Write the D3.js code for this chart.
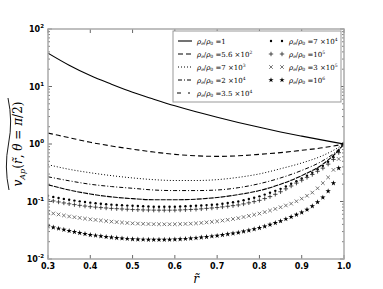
<!DOCTYPE html>
<html lang="en">
<head>
<meta charset="UTF-8" />
<title>v_Ap profile</title>
<script src="https://cdn.jsdelivr.net/npm/d3@7"></script>
<style>
  body { margin: 0; background: #fff; }
  text { fill: #000; }
</style>
</head>
<body>
<script type="text/javascript">

// radius grid for the smooth lines
var rLine = [0.3, 0.35, 0.4, 0.45, 0.5, 0.55, 0.6, 0.65, 0.7, 0.75, 0.8, 0.85, 0.9, 0.95, 0.975, 1.0];

// log10 of v, one array per curve
var lineRho1    = [1.58, 1.37, 1.19, 1.04, 0.9, 0.78, 0.665, 0.56, 0.465, 0.375, 0.29, 0.21, 0.137, 0.067, 0.033, 0];
var lineRho5p6e2 = [0.19, 0.11, 0.03, -0.035, -0.09, -0.14, -0.18, -0.205, -0.215, -0.205, -0.18, -0.15, -0.11, -0.065, -0.035, 0];
var lineRho7e3  = [-0.36, -0.44, -0.5, -0.55, -0.59, -0.62, -0.635, -0.635, -0.62, -0.58, -0.52, -0.43, -0.33, -0.2, -0.11, 0];
var lineRho2e4  = [-0.57, -0.64, -0.7, -0.74, -0.77, -0.8, -0.81, -0.81, -0.8, -0.76, -0.69, -0.59, -0.46, -0.29, -0.17, 0];
var lineRho3p5e4 = [-0.71, -0.8, -0.87, -0.92, -0.95, -0.97, -0.97, -0.96, -0.93, -0.88, -0.81, -0.7, -0.55, -0.35, -0.2, 0];

// radius grid for the marker curves
var rMark = [0.3, 0.3125, 0.325, 0.3375, 0.35, 0.3625, 0.375, 0.3875, 0.4, 0.4125, 0.425, 0.4375,
  0.45, 0.4625, 0.475, 0.4875, 0.5, 0.5125, 0.525, 0.5375, 0.55, 0.5625, 0.575, 0.5875,
  0.6, 0.6125, 0.625, 0.6375, 0.65, 0.6625, 0.675, 0.6875, 0.7, 0.7125, 0.725, 0.7375,
  0.75, 0.7625, 0.775, 0.7875, 0.8, 0.8125, 0.825, 0.8375, 0.85, 0.8625, 0.875, 0.8875,
  0.9, 0.9125, 0.925, 0.9375, 0.95, 0.9625, 0.975, 0.9875, 1.0];

var markRho7e4 = [-0.9, -0.92, -0.938, -0.955, -0.97, -0.984, -0.997, -1.009, -1.02, -1.03, -1.039, -1.047,
  -1.055, -1.061, -1.066, -1.071, -1.075, -1.079, -1.083, -1.087, -1.09, -1.091, -1.091, -1.091,
  -1.09, -1.087, -1.083, -1.079, -1.075, -1.069, -1.063, -1.057, -1.05, -1.039, -1.027, -1.014,
  -1.0, -0.979, -0.957, -0.934, -0.91, -0.88, -0.848, -0.815, -0.78, -0.737, -0.692, -0.646,
  -0.6, -0.55, -0.5, -0.44, -0.38, -0.31, -0.23, -0.12, 0];

var markRho1e5 = [-0.97, -0.99, -1.008, -1.025, -1.04, -1.054, -1.067, -1.079, -1.09, -1.098, -1.106, -1.113,
  -1.12, -1.125, -1.13, -1.135, -1.14, -1.143, -1.146, -1.148, -1.15, -1.151, -1.151, -1.151,
  -1.15, -1.147, -1.143, -1.139, -1.135, -1.128, -1.12, -1.113, -1.105, -1.094, -1.083, -1.072,
  -1.06, -1.042, -1.023, -1.002, -0.98, -0.949, -0.915, -0.875, -0.83, -0.78, -0.73, -0.68,
  -0.63, -0.58, -0.53, -0.475, -0.42, -0.35, -0.27, -0.15, 0];

var markRho3e5 = [-1.19, -1.208, -1.225, -1.243, -1.26, -1.273, -1.285, -1.298, -1.31, -1.32, -1.33, -1.34,
  -1.35, -1.358, -1.365, -1.373, -1.38, -1.384, -1.388, -1.391, -1.394, -1.395, -1.396, -1.396,
  -1.395, -1.392, -1.389, -1.385, -1.38, -1.372, -1.363, -1.354, -1.345, -1.332, -1.318, -1.304,
  -1.29, -1.27, -1.25, -1.23, -1.21, -1.184, -1.157, -1.129, -1.1, -1.069, -1.037, -0.996,
  -0.95, -0.9, -0.845, -0.77, -0.68, -0.58, -0.45, -0.26, 0];

var markRho1e6 = [-1.43, -1.45, -1.47, -1.49, -1.51, -1.528, -1.545, -1.563, -1.58, -1.592, -1.603, -1.614,
  -1.625, -1.633, -1.64, -1.648, -1.655, -1.658, -1.661, -1.663, -1.665, -1.664, -1.663, -1.662,
  -1.66, -1.654, -1.648, -1.642, -1.635, -1.625, -1.615, -1.605, -1.595, -1.582, -1.568, -1.554,
  -1.54, -1.521, -1.502, -1.481, -1.46, -1.432, -1.403, -1.372, -1.34, -1.305, -1.268, -1.23,
  -1.19, -1.14, -1.08, -1.01, -0.93, -0.82, -0.68, -0.42, 0];

// legend labels: [mantissa text, exponent]
var lineLabels = [["1", null], ["5.6 \u00d710", "2"], ["7 \u00d710", "3"], ["2 \u00d710", "4"], ["3.5 \u00d710", "4"]];
var markLabels = [["7 \u00d710", "4"], ["10", "5"], ["3 \u00d710", "5"], ["10", "6"]];

var xTicks = [0.3, 0.4, 0.5, 0.6, 0.7, 0.8, 0.9, 1.0];
var yTickExp = [-2, -1, 0, 1, 2];

var W = 383, H = 289;
var margin = {top: 29, right: 39, bottom: 30, left: 48};

var svg = d3.select("body").append("svg")
  .attr("width", W)
  .attr("height", H);

var x = d3.scaleLinear().domain([0.3, 1.0]).range([margin.left, W - margin.right]);
var y = d3.scaleLog().domain([1e-2, 1e2]).range([H - margin.bottom, margin.top]);

var x0 = x.range()[0], x1 = x.range()[1], y0 = y.range()[0], y1 = y.range()[1];

// clip
svg.append("clipPath").attr("id", "plotclip")
  .append("rect").attr("x", x0).attr("y", y1).attr("width", x1 - x0).attr("height", y0 - y1);

var plot = svg.append("g").attr("clip-path", "url(#plotclip)");

function zipLine(logs) {
  return logs.map(function(v, i) { return {r: rLine[i], v: Math.pow(10, v)}; });
}
function zipMark(logs) {
  return logs.map(function(v, i) { return {r: rMark[i], v: Math.pow(10, v)}; });
}

var line = d3.line()
  .x(function(d) { return x(d.r); })
  .y(function(d) { return y(d.v); })
  .curve(d3.curveMonotoneX);

var lines = [
  {data: lineRho1, dash: null, w: 1.1},
  {data: lineRho5p6e2, dash: "5,3", w: 1.1},
  {data: lineRho7e3, dash: "1,2", w: 1},
  {data: lineRho2e4, dash: "4,2,1,2", w: 1},
  {data: lineRho3p5e4, dash: "5,1", w: 1.1}
];

plot.selectAll("path.curve")
  .data(lines)
  .enter().append("path")
  .attr("class", "curve")
  .attr("fill", "none")
  .attr("stroke", "#000")
  .attr("stroke-width", function(d) { return d.w; })
  .attr("stroke-dasharray", function(d) { return d.dash; })
  .attr("d", function(d) { return line(zipLine(d.data)); });

// marker shapes
var starPath = d3.symbol().type(d3.symbolStar).size(9)();

function drawMarker(g, type) {
  if (type === "dot") {
    g.append("circle").attr("r", 1.2).attr("fill", "#000");
  } else if (type === "plus") {
    g.append("path").attr("d", "M-2.2,0H2.2M0,-2.2V2.2")
      .attr("stroke", "#222").attr("stroke-width", 0.8).attr("fill", "none");
  } else if (type === "cross") {
    g.append("path").attr("d", "M-1.8,-1.8L1.8,1.8M-1.8,1.8L1.8,-1.8")
      .attr("stroke", "#555").attr("stroke-width", 0.8).attr("fill", "none");
  } else if (type === "star") {
    g.append("path").attr("d", starPath).attr("fill", "#000");
  }
}

var marks = [
  {data: markRho7e4, type: "dot"},
  {data: markRho1e5, type: "plus"},
  {data: markRho3e5, type: "cross"},
  {data: markRho1e6, type: "star"}
];

marks.forEach(function(m) {
  plot.append("g").selectAll("g")
    .data(zipMark(m.data))
    .enter().append("g")
    .attr("transform", function(d) { return "translate(" + x(d.r) + "," + y(d.v) + ")"; })
    .each(function() { drawMarker(d3.select(this), m.type); });
});

// frame and ticks
var axisG = svg.append("g");

xTicks.forEach(function(t) {
  axisG.append("line").attr("x1", x(t)).attr("x2", x(t)).attr("y1", y0).attr("y2", y0 - 4)
    .attr("stroke", "#000").attr("stroke-width", 0.6);
  axisG.append("line").attr("x1", x(t)).attr("x2", x(t)).attr("y1", y1).attr("y2", y1 + 4)
    .attr("stroke", "#000").attr("stroke-width", 0.6);
});

var minor = [];
yTickExp.forEach(function(e) {
  if (e < 2) {
    for (var k = 2; k <= 9; k++) minor.push(k * Math.pow(10, e));
  }
});
yTickExp.forEach(function(e) {
  var v = Math.pow(10, e);
  [[x0, 4], [x1, -4]].forEach(function(s) {
    axisG.append("line").attr("x1", s[0]).attr("x2", s[0] + s[1]).attr("y1", y(v)).attr("y2", y(v))
      .attr("stroke", "#000").attr("stroke-width", 0.6);
  });
});
minor.forEach(function(v) {
  [[x0, 2], [x1, -2]].forEach(function(s) {
    axisG.append("line").attr("x1", s[0]).attr("x2", s[0] + s[1]).attr("y1", y(v)).attr("y2", y(v))
      .attr("stroke", "#000").attr("stroke-width", 0.5);
  });
});

axisG.append("rect")
  .attr("x", x0).attr("y", y1).attr("width", x1 - x0).attr("height", y0 - y1)
  .attr("fill", "none").attr("stroke", "#aaa").attr("stroke-width", 1.5);

// tick labels
var tickFont = "'DejaVu Sans', sans-serif";
axisG.selectAll("text.xt")
  .data(xTicks)
  .enter().append("text")
  .attr("x", function(d) { return x(d); })
  .attr("y", y0 + 10)
  .attr("text-anchor", "middle")
  .attr("font-family", tickFont)
  .attr("font-weight", "bold")
  .attr("font-size", 8)
  .text(function(d) { return d3.format(".1f")(d); });

yTickExp.forEach(function(e) {
  var t = axisG.append("text")
    .attr("x", x0 - 4)
    .attr("y", y(Math.pow(10, e)) + 3)
    .attr("text-anchor", "end")
    .attr("font-family", tickFont)
    .attr("font-weight", "bold")
    .attr("font-size", 8);
  t.append("tspan").text("10");
  t.append("tspan").attr("dy", -4).attr("font-size", 5.5).text(String(e).replace("-", "-"));
});

// axis labels
svg.append("text")
  .attr("x", (x0 + x1) / 2)
  .attr("y", H - 6)
  .attr("text-anchor", "middle")
  .attr("font-family", "'DejaVu Serif', serif")
  .attr("font-style", "italic")
  .attr("font-size", 12)
  .text("r\u0303");

var yl = svg.append("g").attr("transform", "translate(22," + ((y0 + y1) / 2) + ") rotate(-90)");
var ylt = yl.append("text")
  .attr("text-anchor", "middle")
  .attr("font-family", "'DejaVu Serif', serif")
  .attr("font-size", 12);
ylt.append("tspan").attr("font-style", "italic").text("v");
ylt.append("tspan").attr("font-style", "italic").attr("font-size", 8).attr("dy", 3).text("Ap");
ylt.append("tspan").attr("dy", -3).text("(");
ylt.append("tspan").attr("font-style", "italic").text("r\u0303");
ylt.append("tspan").text(", ");
ylt.append("tspan").attr("font-style", "italic").text("\u03b8");
ylt.append("tspan").text(" = ");
ylt.append("tspan").attr("font-style", "italic").text("\u03c0");
ylt.append("tspan").text("/2)");
// wide tilde over the label
yl.append("path")
  .attr("d", "M-46,-13 Q-23,-18 0,-13.5 T46,-14")
  .attr("fill", "none").attr("stroke", "#000").attr("stroke-width", 0.9);

// legend
var leg = svg.append("g");
leg.append("rect")
  .attr("x", 173).attr("y", 31).attr("width", 168).attr("height", 71)
  .attr("fill", "#fff").attr("stroke", "#999").attr("stroke-width", 1);

function legendText(g, tx, ty, lab) {
  var t = g.append("text")
    .attr("x", tx).attr("y", ty + 2.5)
    .attr("font-family", "'DejaVu Serif', serif")
    .attr("font-size", 7);
  t.append("tspan").attr("font-style", "italic").text("\u03c1");
  t.append("tspan").attr("font-style", "italic").attr("font-size", 4.5).attr("dy", 1.5).text("e");
  t.append("tspan").attr("dy", -1.5).text("/");
  t.append("tspan").attr("font-style", "italic").text("\u03c1");
  t.append("tspan").attr("font-size", 4.5).attr("dy", 1.5).text("0");
  t.append("tspan").attr("dy", -1.5).text(" =" + lab[0]);
  if (lab[1]) {
    t.append("tspan").attr("font-size", 4.5).attr("dy", -3).text(lab[1]);
  }
}

var rowY = [41, 54, 67, 80, 93];
lines.forEach(function(l, i) {
  var ry = rowY[i];
  if (i < 4) {
    leg.append("line").attr("x1", 178).attr("x2", 192).attr("y1", ry).attr("y2", ry)
      .attr("stroke", "#000").attr("stroke-width", l.w)
      .attr("stroke-dasharray", l.dash);
  } else {
    leg.append("line").attr("x1", 177).attr("x2", 181).attr("y1", ry).attr("y2", ry)
      .attr("stroke", "#000").attr("stroke-width", 1);
    leg.append("line").attr("x1", 188).attr("x2", 190).attr("y1", ry).attr("y2", ry)
      .attr("stroke", "#000").attr("stroke-width", 1);
  }
  legendText(leg, 197, ry, lineLabels[i]);
});

marks.forEach(function(m, i) {
  var ry = rowY[i];
  [271, 282].forEach(function(mx) {
    drawMarker(leg.append("g").attr("transform", "translate(" + mx + "," + ry + ")"), m.type);
  });
  legendText(leg, 289, ry, markLabels[i]);
});

</script>
</body>
</html>
